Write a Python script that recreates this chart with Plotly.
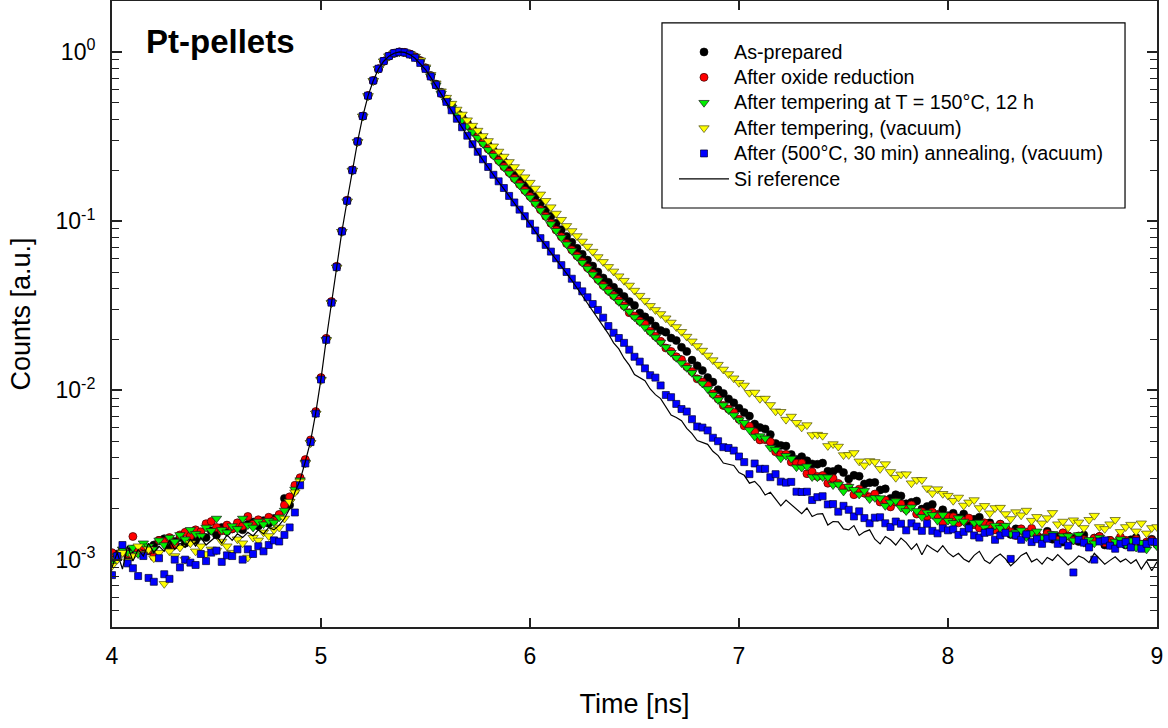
import plotly.graph_objects as go

# ---------------- data ----------------
time_ns = [round(4.0 + 0.025 * i, 3) for i in range(201)]

as_prepared = [
    1.02e-3, 1.08e-3, 1.12e-3, 1.05e-3, 1.15e-3, 1.10e-3, 1.18e-3, 1.13e-3, 1.22e-3, 1.30e-3,
    1.33e-3, 1.20e-3, 1.28e-3, 1.35e-3, 1.25e-3, 1.38e-3, 1.30e-3, 1.42e-3, 1.35e-3, 1.48e-3,
    1.40e-3, 1.55e-3, 1.47e-3, 1.52e-3, 1.60e-3, 1.50e-3, 1.62e-3, 1.67e-3, 1.58e-3, 1.70e-3,
    1.64e-3, 1.75e-3, 1.82e-3, 2.30e-3, 2.10e-3,
    2.55e-3, 3.00e-3, 3.85e-3, 5.00e-3, 7.40e-3, 0.0118, 0.0201, 0.0332, 0.0537, 0.0868,
    0.132, 0.200, 0.295, 0.417, 0.551, 0.676, 0.794, 0.881, 0.944, 0.982, 1.000,
    0.993, 0.973, 0.938, 0.889, 0.807, 0.726, 0.646, 0.578, 0.525, 0.483,
    0.445, 0.413, 0.382, 0.353, 0.328, 0.304, 0.282, 0.261, 0.242, 0.225,
    0.208, 0.193, 0.179, 0.165, 0.153, 0.140, 0.128, 0.117, 0.107, 0.0973,
    0.0891, 0.0813, 0.0750, 0.0692, 0.0638, 0.0589, 0.0543, 0.0501, 0.0462, 0.0435,
    0.0407, 0.0382, 0.0359, 0.0335, 0.0318, 0.0287, 0.0272, 0.0259, 0.0240, 0.0226,
    0.0221, 0.0204, 0.0197, 0.0180, 0.0170, 0.0151, 0.0140, 0.0131, 0.0119, 0.0112,
    0.0101, 0.00960, 0.00891, 0.00845, 0.00785,
    0.00740, 0.00705, 0.00633, 0.00604, 0.00592, 0.00548, 0.00486, 0.00473, 0.00469, 0.00418,
    0.00391, 0.00406, 0.00384, 0.00368, 0.00366, 0.00372, 0.00333, 0.00332, 0.00344, 0.00327,
    0.00300, 0.00315, 0.00311, 0.00280, 0.00285, 0.00286, 0.00258, 0.00262, 0.00230, 0.00242,
    0.00238, 0.00214, 0.00218, 0.00222, 0.00199, 0.00206, 0.00212, 0.00185, 0.00197, 0.00182,
    0.00188, 0.00176, 0.00186, 0.00167, 0.00173, 0.00178, 0.00160, 0.00165, 0.00151, 0.00162,
    0.00155, 0.00141, 0.00152, 0.00149, 0.00138, 0.00149, 0.00139, 0.00134, 0.00147, 0.00132,
    0.00137, 0.00127, 0.00138, 0.00134, 0.00128, 0.00140, 0.00126, 0.00134, 0.00137, 0.00122,
    0.00130, 0.00126, 0.00133, 0.00122, 0.00131, 0.00135, 0.00123, 0.00125, 0.00132, 0.00123,
]

oxide_reduction = [
    1.10e-3, 1.05e-3, 1.15e-3, 1.08e-3, 1.37e-3, 1.12e-3, 1.20e-3, 1.14e-3, 1.04e-3, 1.30e-3,
    1.28e-3, 1.35e-3, 1.22e-3, 1.40e-3, 1.45e-3, 1.38e-3, 1.50e-3, 1.46e-3, 1.63e-3, 1.68e-3,
    1.55e-3, 1.48e-3, 1.60e-3, 1.52e-3, 1.65e-3, 1.58e-3, 1.80e-3, 1.62e-3, 1.72e-3, 1.66e-3,
    1.78e-3, 1.70e-3, 1.85e-3, 2.10e-3, 2.35e-3,
    2.75e-3, 3.05e-3, 3.90e-3, 5.10e-3, 7.50e-3, 0.0119, 0.0203, 0.0335, 0.0541, 0.0875,
    0.133, 0.201, 0.296, 0.418, 0.552, 0.677, 0.795, 0.882, 0.945, 0.983, 1.000,
    0.993, 0.971, 0.933, 0.883, 0.800, 0.718, 0.637, 0.569, 0.515, 0.472,
    0.434, 0.400, 0.369, 0.340, 0.314, 0.290, 0.267, 0.247, 0.228, 0.210,
    0.194, 0.179, 0.165, 0.152, 0.140, 0.128, 0.117, 0.107, 0.0973, 0.0887,
    0.0809, 0.0738, 0.0676, 0.0624, 0.0575, 0.0531, 0.0490, 0.0452, 0.0417, 0.0389,
    0.0363, 0.0339, 0.0316, 0.0288, 0.0275, 0.0257, 0.0246, 0.0224, 0.0209, 0.0195,
    0.0178, 0.0170, 0.0158, 0.0152, 0.0138, 0.0129, 0.0117, 0.0112, 0.0107, 0.00955,
    0.00891, 0.00815, 0.00776, 0.00740, 0.00676,
    0.00618, 0.00614, 0.00568, 0.00510, 0.00511, 0.00497, 0.00434, 0.00418, 0.00419, 0.00377,
    0.00371, 0.00372, 0.00322, 0.00330, 0.00310, 0.00314, 0.00283, 0.00302, 0.00282, 0.00264,
    0.00268, 0.00242, 0.00261, 0.00247, 0.00235, 0.00244, 0.00219, 0.00225, 0.00205, 0.00219,
    0.00213, 0.00198, 0.00210, 0.00186, 0.00192, 0.00180, 0.00191, 0.00183, 0.00165, 0.00179,
    0.00179, 0.00165, 0.00170, 0.00176, 0.00161, 0.00154, 0.00165, 0.00160, 0.00150, 0.00162,
    0.00155, 0.00146, 0.00139, 0.00152, 0.00145, 0.00153, 0.00139, 0.00134, 0.00143, 0.00139,
    0.00130, 0.00144, 0.00138, 0.00130, 0.00138, 0.00131, 0.00123, 0.00134, 0.00137, 0.00126,
    0.00130, 0.00123, 0.00136, 0.00130, 0.00123, 0.00132, 0.00120, 0.00127, 0.00130, 0.00123,
]

tempering_150c = [
    0.95e-3, 1.05e-3, 1.15e-3, 1.10e-3, 1.18e-3, 1.08e-3, 1.25e-3, 1.20e-3, 1.15e-3, 1.30e-3,
    1.22e-3, 1.35e-3, 1.28e-3, 1.40e-3, 1.32e-3, 1.50e-3, 1.42e-3, 1.38e-3, 1.55e-3, 1.48e-3,
    1.75e-3, 1.50e-3, 1.45e-3, 1.58e-3, 1.52e-3, 1.75e-3, 1.60e-3, 1.55e-3, 1.68e-3, 1.62e-3,
    1.70e-3, 1.66e-3, 1.78e-3, 1.95e-3, 2.20e-3,
    2.60e-3, 2.95e-3, 3.75e-3, 4.90e-3, 7.30e-3, 0.0116, 0.0199, 0.0330, 0.0533, 0.0866,
    0.131, 0.199, 0.294, 0.416, 0.549, 0.675, 0.793, 0.880, 0.943, 0.981, 1.000,
    0.993, 0.972, 0.935, 0.885, 0.802, 0.719, 0.636, 0.567, 0.512, 0.469,
    0.431, 0.397, 0.366, 0.337, 0.311, 0.287, 0.264, 0.244, 0.225, 0.208,
    0.192, 0.177, 0.163, 0.150, 0.138, 0.127, 0.116, 0.106, 0.0962, 0.0878,
    0.0800, 0.0731, 0.0669, 0.0617, 0.0569, 0.0525, 0.0485, 0.0447, 0.0413, 0.0384,
    0.0360, 0.0334, 0.0312, 0.0292, 0.0271, 0.0254, 0.0236, 0.0221, 0.0206, 0.0192,
    0.0180, 0.0167, 0.0156, 0.0145, 0.0136, 0.0127, 0.0118, 0.0110, 0.0102, 0.00942,
    0.00878, 0.00820, 0.00766, 0.00714, 0.00668,
    0.00644, 0.00584, 0.00534, 0.00537, 0.00521, 0.00459, 0.00447, 0.00397, 0.00411, 0.00396,
    0.00352, 0.00350, 0.00356, 0.00308, 0.00307, 0.00308, 0.00307, 0.00276, 0.00279, 0.00253,
    0.00270, 0.00259, 0.00243, 0.00255, 0.00228, 0.00232, 0.00231, 0.00208, 0.00218, 0.00222,
    0.00203, 0.00194, 0.00204, 0.00194, 0.00179, 0.00190, 0.00184, 0.00170, 0.00184, 0.00170,
    0.00165, 0.00176, 0.00168, 0.00154, 0.00165, 0.00166, 0.00155, 0.00148, 0.00159, 0.00154,
    0.00159, 0.00142, 0.00145, 0.00149, 0.00136, 0.00144, 0.00147, 0.00135, 0.00137, 0.00142,
    0.00128, 0.00138, 0.00138, 0.00130, 0.00140, 0.00126, 0.00131, 0.00125, 0.00135, 0.00131,
    0.00122, 0.00128, 0.00132, 0.00123, 0.00130, 0.00118, 0.00126, 0.00115, 0.00128, 0.00120,
]

tempering_vacuum = [
    0.92e-3, 1.00e-3, 1.10e-3, 0.98e-3, 1.05e-3, 1.20e-3, 1.08e-3, 1.15e-3, 1.02e-3, 1.10e-3,
    0.72e-3, 1.12e-3, 1.05e-3, 1.18e-3, 1.00e-3, 1.25e-3, 1.12e-3, 1.20e-3, 1.08e-3, 1.15e-3,
    1.13e-3, 1.28e-3, 1.20e-3, 1.10e-3, 1.32e-3, 1.25e-3, 1.03e-3, 1.35e-3, 1.30e-3, 1.45e-3,
    1.38e-3, 1.50e-3, 1.55e-3, 1.75e-3, 2.20e-3,
    2.50e-3, 2.90e-3, 3.70e-3, 4.90e-3, 7.30e-3, 0.0115, 0.0198, 0.0328, 0.0532, 0.0865,
    0.131, 0.199, 0.294, 0.416, 0.549, 0.675, 0.793, 0.881, 0.944, 0.982, 1.000,
    0.993, 0.973, 0.940, 0.893, 0.813, 0.733, 0.653, 0.586, 0.537, 0.495,
    0.457, 0.427, 0.395, 0.367, 0.343, 0.319, 0.298, 0.277, 0.258, 0.241,
    0.224, 0.209, 0.195, 0.182, 0.169, 0.156, 0.144, 0.132, 0.121, 0.111,
    0.102, 0.0938, 0.0875, 0.0817, 0.0759, 0.0708, 0.0661, 0.0614, 0.0575, 0.0537,
    0.0505, 0.0473, 0.0445, 0.0417, 0.0389, 0.0363, 0.0339, 0.0316, 0.0299, 0.0283,
    0.0267, 0.0252, 0.0237, 0.0222, 0.0208, 0.0195, 0.0183, 0.0172, 0.0161, 0.0151,
    0.0142, 0.0133, 0.0125, 0.0118, 0.0111,
    0.0107, 0.00969, 0.00972, 0.00893, 0.00895, 0.00821, 0.00753, 0.00748, 0.00672, 0.00701,
    0.00644, 0.00605, 0.00624, 0.00545, 0.00548, 0.00540, 0.00470, 0.00482, 0.00466, 0.00415,
    0.00416, 0.00427, 0.00381, 0.00361, 0.00383, 0.00378, 0.00344, 0.00367, 0.00330, 0.00305,
    0.00319, 0.00320, 0.00283, 0.00296, 0.00296, 0.00264, 0.00247, 0.00261, 0.00245, 0.00239,
    0.00223, 0.00233, 0.00209, 0.00218, 0.00225, 0.00202, 0.00208, 0.00188, 0.00202, 0.00203,
    0.00186, 0.00174, 0.00191, 0.00183, 0.00195, 0.00170, 0.00179, 0.00164, 0.00176, 0.00189,
    0.00162, 0.00168, 0.00155, 0.00171, 0.00166, 0.00154, 0.00172, 0.00182, 0.00156, 0.00152,
    0.00162, 0.00172, 0.00146, 0.00156, 0.00161, 0.00147, 0.00164, 0.00143, 0.00154, 0.00156,
]

annealing_500c = [
    0.81e-3, 1.05e-3, 1.22e-3, 0.95e-3, 0.89e-3, 0.80e-3, 1.05e-3, 0.78e-3, 0.74e-3, 1.02e-3,
    0.82e-3, 0.77e-3, 1.00e-3, 0.90e-3, 1.00e-3, 0.96e-3, 0.93e-3, 1.08e-3, 0.98e-3, 1.10e-3,
    1.13e-3, 0.97e-3, 1.06e-3, 1.05e-3, 1.15e-3, 1.00e-3, 1.15e-3, 1.08e-3, 1.20e-3, 1.12e-3,
    1.22e-3, 1.30e-3, 1.28e-3, 1.40e-3, 1.55e-3,
    1.90e-3, 2.75e-3, 3.70e-3, 4.95e-3, 7.30e-3, 0.0116, 0.0199, 0.0330, 0.0535, 0.0870,
    0.132, 0.200, 0.296, 0.418, 0.552, 0.678, 0.796, 0.884, 0.946, 0.984, 1.000,
    0.993, 0.966, 0.923, 0.861, 0.794, 0.716, 0.638, 0.569, 0.507, 0.452,
    0.403, 0.359, 0.320, 0.285, 0.257, 0.232, 0.209, 0.188, 0.172, 0.157,
    0.141, 0.129, 0.117, 0.107, 0.0966, 0.0881, 0.0794, 0.0724, 0.0661, 0.0603,
    0.0550, 0.0501, 0.0457, 0.0417, 0.0385, 0.0355, 0.0324, 0.0299, 0.0269, 0.0240,
    0.0219, 0.0204, 0.0191, 0.0174, 0.0158, 0.0148, 0.0135, 0.0123, 0.0119, 0.0107,
    0.00940, 0.00912, 0.00832, 0.00776, 0.00750, 0.00676, 0.00612, 0.00603, 0.00580, 0.00525,
    0.00501, 0.00462, 0.00457, 0.00441, 0.00407,
    0.00377, 0.00320, 0.00370, 0.00344, 0.00344, 0.00307, 0.00320, 0.00289, 0.00285, 0.00288,
    0.00252, 0.00251, 0.00252, 0.00225, 0.00234, 0.00237, 0.00212, 0.00213, 0.00192, 0.00208,
    0.00197, 0.00180, 0.00193, 0.00176, 0.00164, 0.00177, 0.00178, 0.00164, 0.00156, 0.00168,
    0.00163, 0.00149, 0.00164, 0.00157, 0.00148, 0.00163, 0.00148, 0.00143, 0.00153, 0.00149,
    0.00151, 0.00140, 0.00146, 0.00153, 0.00139, 0.00135, 0.00144, 0.00146, 0.00131, 0.00139,
    0.00144, 0.00101, 0.00139, 0.00131, 0.00141, 0.00127, 0.00132, 0.00124, 0.00133, 0.00137,
    0.00124, 0.00130, 0.00121, 0.00084, 0.00131, 0.00126, 0.00118, 0.00100, 0.00128, 0.00130,
    0.00121, 0.00116, 0.00124, 0.00127, 0.00118, 0.00129, 0.00116, 0.00124, 0.00128, 0.00127,
]

si_reference = [
    0.90e-3, 1.10e-3, 0.88e-3, 1.20e-3, 0.98e-3, 1.15e-3, 1.05e-3, 1.25e-3, 1.10e-3, 1.20e-3,
    1.12e-3, 1.30e-3, 1.15e-3, 1.25e-3, 1.18e-3, 1.32e-3, 1.20e-3, 1.35e-3, 1.22e-3, 1.30e-3,
    1.38e-3, 1.25e-3, 1.40e-3, 1.30e-3, 1.42e-3, 1.35e-3, 1.45e-3, 1.38e-3, 1.50e-3, 1.42e-3,
    1.55e-3, 1.50e-3, 1.60e-3, 1.75e-3, 2.00e-3,
    2.50e-3, 2.95e-3, 3.80e-3, 5.00e-3, 7.40e-3, 0.0117, 0.0200, 0.0331, 0.0537, 0.0871,
    0.132, 0.200, 0.295, 0.417, 0.550, 0.676, 0.794, 0.881, 0.944, 0.982, 1.000,
    0.993, 0.964, 0.918, 0.855, 0.787, 0.708, 0.631, 0.562, 0.501, 0.447,
    0.398, 0.355, 0.316, 0.282, 0.254, 0.229, 0.207, 0.186, 0.170, 0.155,
    0.140, 0.127, 0.116, 0.106, 0.0955, 0.0871, 0.0785, 0.0716, 0.0653, 0.0596,
    0.0543, 0.0495, 0.0447, 0.0403, 0.0363, 0.0327, 0.0295, 0.0266, 0.0240, 0.0216,
    0.0191, 0.0176, 0.0155, 0.0141, 0.0124, 0.0119, 0.0114, 0.0102, 0.00944, 0.00895,
    0.00804, 0.00715, 0.00692, 0.00662, 0.00596, 0.00556, 0.00505, 0.00490, 0.00480, 0.00437,
    0.00412, 0.00372, 0.00367, 0.00360, 0.00327,
    0.00315, 0.00283, 0.00290, 0.00269, 0.00241, 0.00250, 0.00227, 0.00208, 0.00225, 0.00211,
    0.00198, 0.00187, 0.00202, 0.00180, 0.00186, 0.00187, 0.00160, 0.00168, 0.00167, 0.00152,
    0.00150, 0.00159, 0.00139, 0.00146, 0.00150, 0.00132, 0.00124, 0.00137, 0.00131, 0.00122,
    0.00134, 0.00126, 0.00115, 0.00124, 0.00107, 0.00122, 0.00116, 0.00111, 0.00121, 0.00110,
    0.00104, 0.00109, 0.00101, 0.00097, 0.00106, 0.00112, 0.00099, 0.00095, 0.00103, 0.00108,
    0.00101, 0.00092, 0.00098, 0.00106, 0.00110, 0.00097, 0.00101, 0.00094, 0.00103, 0.00099,
    0.00107, 0.00100, 0.00093, 0.00098, 0.00105, 0.00102, 0.00096, 0.00109, 0.00101, 0.00094,
    0.00099, 0.00104, 0.00097, 0.00101, 0.00095, 0.00100, 0.00088, 0.00098, 0.00086, 0.00097,
]

series_names = [
    "As-prepared",
    "After oxide reduction",
    "After tempering at T = 150°C, 12 h",
    "After tempering, (vacuum)",
    "After (500°C, 30 min) annealing, (vacuum)",
    "Si reference",
]

y_tick_values = [1e-3, 1e-2, 1e-1, 1e0]
y_tick_labels = ["10<sup>-3</sup>", "10<sup>-2</sup>", "10<sup>-1</sup>", "10<sup>0</sup>"]
y_minor_values = [m * 10.0 ** e for e in (-4, -3, -2, -1) for m in range(2, 10) if 4e-4 <= m * 10.0 ** e < 1.0]
x_tick_values = [4, 5, 6, 7, 8, 9]

for s in (as_prepared, oxide_reduction, tempering_150c, tempering_vacuum, annealing_500c, si_reference):
    assert len(s) == len(time_ns), len(s)

# ---------------- figure ----------------
FONT = "Liberation Sans, Arial, Helvetica, sans-serif"
LEGEND_TEXT = '<span style="font-size:19.7px">{}</span>'

fig = go.Figure()

marker_specs = [
    (as_prepared, dict(symbol="circle", size=8, color="#000000", line=dict(color="#000000", width=0.6))),
    (oxide_reduction, dict(symbol="circle", size=8, color="#ff0000", line=dict(color="#3a0000", width=0.7))),
    (tempering_150c, dict(symbol="triangle-down", size=9, color="#00ee00", line=dict(color="#1a1a1a", width=0.7))),
    (tempering_vacuum, dict(symbol="triangle-down", size=9, color="#ffff00", line=dict(color="#4a4a10", width=0.7))),
    (annealing_500c, dict(symbol="square", size=7, color="#0000ff", line=dict(color="#000030", width=0.7))),
]
for (vals, mk), name in zip(marker_specs, series_names[:5]):
    fig.add_trace(go.Scatter(x=time_ns, y=vals, mode="markers", name=LEGEND_TEXT.format(name), marker=mk))

fig.add_trace(go.Scatter(x=time_ns, y=si_reference, mode="lines", name=LEGEND_TEXT.format(series_names[5]),
                         line=dict(color="black", width=1.2)))

axis_common = dict(
    showline=True, linecolor="#222222", linewidth=2, mirror="ticks",
    ticks="inside", tickcolor="#222222", tickwidth=1.5,
    showgrid=False, zeroline=False,
    tickfont=dict(family=FONT, size=23, color="black"),
)

fig.update_xaxes(
    **axis_common,
    range=[4, 9], tickvals=x_tick_values, ticklen=9,
    ticklabelstandoff=7,
    title=dict(text="Time [ns]", font=dict(family=FONT, size=27, color="black"), standoff=27),
)
fig.update_yaxes(
    **axis_common,
    type="log", range=[-3.398, 0.301],
    tickvals=y_tick_values, ticktext=y_tick_labels, ticklen=10,
    ticklabelstandoff=10,
    minor=dict(ticks="inside", ticklen=7, tickwidth=1.2, tickcolor="#222222", tickvals=y_minor_values, showgrid=False),
    title=dict(text="Counts [a.u.]", font=dict(family=FONT, size=27, color="black"), standoff=17),
)

fig.add_shape(type="rect", xref="paper", yref="paper",
              x0=0.5263, x1=0.9694, y0=0.6693, y1=0.9649,
              line=dict(color="black", width=1.2), fillcolor="rgba(0,0,0,0)")

fig.add_annotation(text="<b>Pt-pellets</b>", xref="paper", yref="paper",
                   x=0.0306, y=0.935, xanchor="left", yanchor="middle", showarrow=False,
                   font=dict(family=FONT, size=33, color="black"))

fig.update_layout(
    width=1168, height=728,
    margin=dict(l=112, r=11, t=1, b=101, autoexpand=False),
    paper_bgcolor="white", plot_bgcolor="white",
    font=dict(family=FONT, color="black"),
    showlegend=True,
    legend=dict(x=0.5378, y=0.9468, xanchor="left", yanchor="top",
                bgcolor="rgba(0,0,0,0)", borderwidth=0,
                font=dict(family=FONT, size=17.2, color="black"),
                itemwidth=50, tracegroupgap=0),
)

fig.write_html("out.html")
